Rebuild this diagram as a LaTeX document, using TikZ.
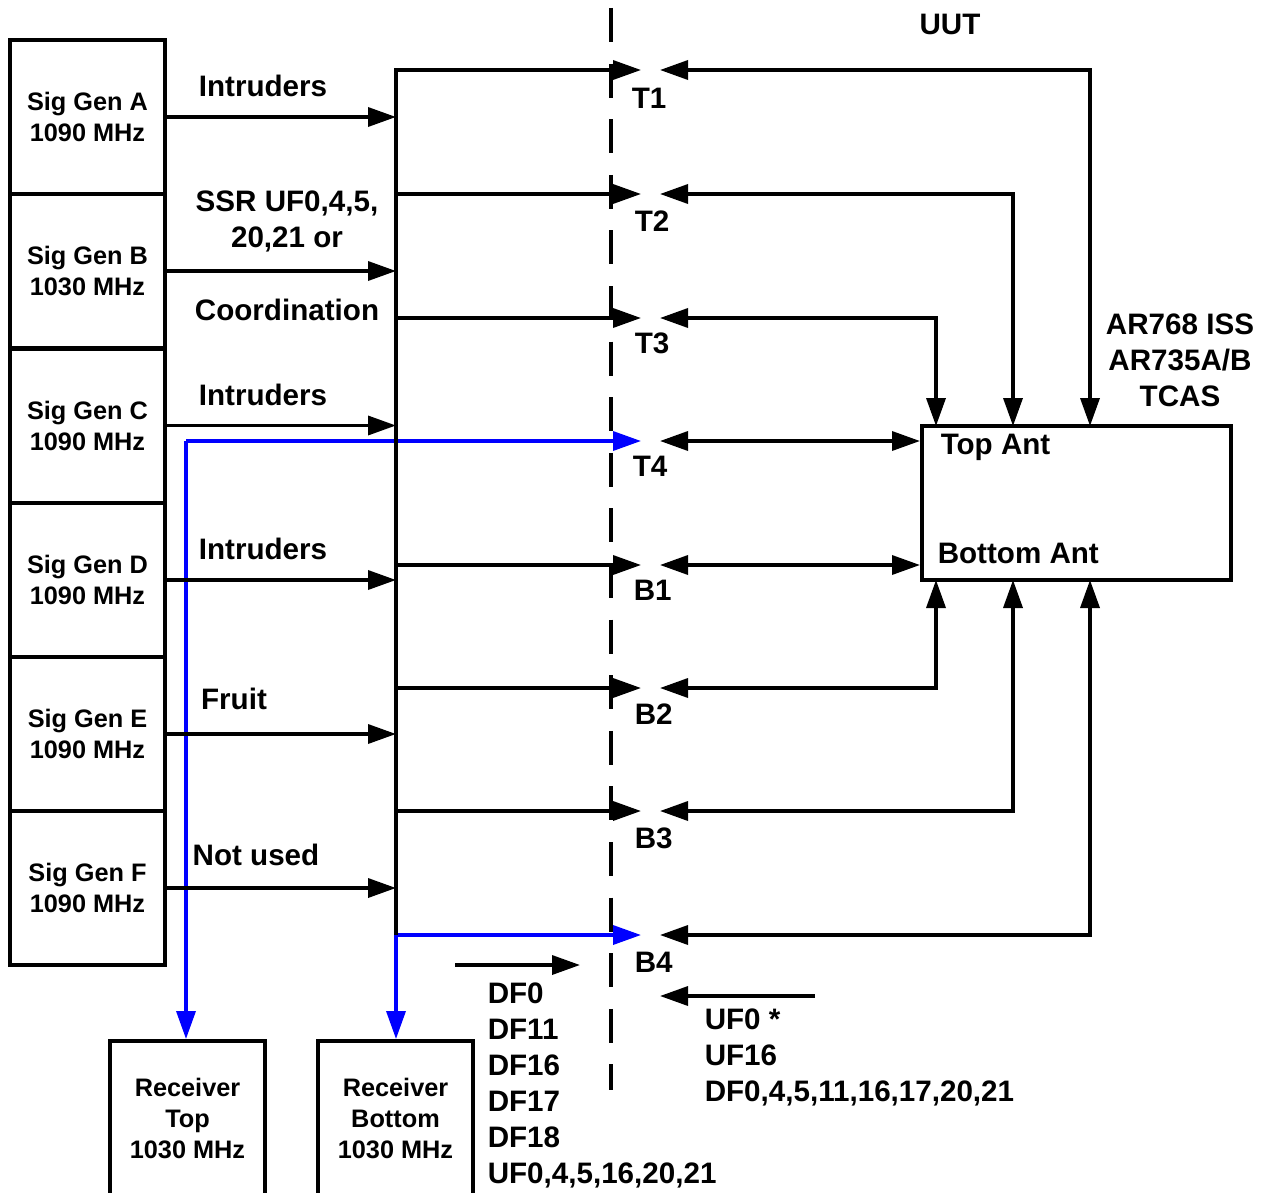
\documentclass[tikz,border=0pt]{standalone}
\usepackage{fontspec}
\setmainfont{Liberation Sans}
\usetikzlibrary{arrows.meta}
\definecolor{pblue}{RGB}{0,0,255}
\newcommand\mygenfont{\bfseries\fontsize{12.65}{15.5}\selectfont}
\newcommand\mylblfont{\bfseries\fontsize{14.8}{18}\selectfont}
\begin{document}
\begin{tikzpicture}[x=0.5pt,y=-0.5pt,line width=1.75pt,
  >={Triangle[length=14pt,width=9.5pt]},
  genbox/.style={draw,line width=2pt,minimum width=77.5pt,minimum height=77pt,inner sep=0pt,align=center,font=\mygenfont},
  lbl/.style={inner sep=0pt,font=\mylblfont},
  tlbl/.style={inner sep=0pt,font=\mylblfont,anchor=west},
  bluearrow/.style={pblue,->}]
\useasboundingbox (0,0) rectangle (1268,1193);
\clip (0,0) rectangle (1268,1193);

% signal generators
\node[genbox] (sgA) at (87.5,117) {Sig Gen A\\1090 MHz};
\node[genbox] (sgB) at (87.5,271) {Sig Gen B\\1030 MHz};
\node[genbox] (sgC) at (87.5,425.5) {Sig Gen C\\1090 MHz};
\node[genbox] (sgD) at (87.5,580) {Sig Gen D\\1090 MHz};
\node[genbox] (sgE) at (87.5,734) {Sig Gen E\\1090 MHz};
\node[genbox] (sgF) at (87.5,888) {Sig Gen F\\1090 MHz};

% receivers
\node[genbox] (recT) at (187.5,1118) {Receiver\\Top\\1030 MHz};
\node[genbox] (recB) at (395.5,1118) {Receiver\\Bottom\\1030 MHz};

% UUT box
\node[draw,line width=2pt,minimum width=154.5pt,minimum height=77pt,inner sep=0pt] (ant) at (1076.5,503) {};
\node[tlbl] (topant) at (939,447) {Top Ant};
\node[tlbl] (botant) at (936,553) {Bottom Ant};

% coordinates
\coordinate (bustop) at (396,70);
\coordinate (busbot) at (396,935);
\coordinate (dtop) at (611,8);
\coordinate (dbot) at (611,1090);
\foreach \n/\y in {T1/70,T2/194,T3/318,T4/441,B1/565,B2/688,B3/811,B4/935}{
  \coordinate (in\n) at (641,\y);
  \coordinate (out\n) at (660,\y);
}
\coordinate (antA) at (936,426);
\coordinate (antB) at (1013,426);
\coordinate (antC) at (1090,426);
\coordinate (antD) at (936,580);
\coordinate (antE) at (1013,580);
\coordinate (antF) at (1090,580);
\coordinate (bT4) at (186,441);
\coordinate (dfs) at (455,965);
\coordinate (dfe) at (580,965);
\coordinate (ufs) at (815,996);
\coordinate (ufe) at (660,996);

% dashed boundary
\draw[line width=2pt,dash pattern=on 17pt off 10.8pt] (dtop) -- (dbot);

% blue paths
\draw[bluearrow] (bT4) -- (inT4);
\draw[bluearrow] (bT4) -- (bT4 |- recT.north);
\draw[bluearrow] (busbot) -- (inB4);
\draw[bluearrow] (busbot) -- (busbot |- recB.north);

% generators to bus
\foreach \g in {sgA,sgB,sgC,sgD,sgE,sgF}{
  \draw[->] (\g.east) -- (\g.east -| bustop);
}
% bus
\draw[->] (busbot) -- (bustop) -- (inT1);
\foreach \n in {T2,T3,B1,B2,B3}{
  \draw[->] (in\n -| bustop) -- (in\n);
}

% right side
\draw[<->] (outT1) -| (antC);
\draw[<->] (outT2) -| (antB);
\draw[<->] (outT3) -| (antA);
\draw[<->] (outT4) -- (outT4 -| ant.west);
\draw[<->] (outB1) -- (outB1 -| ant.west);
\draw[<->] (outB2) -| (antD);
\draw[<->] (outB3) -| (antE);
\draw[<->] (outB4) -| (antF);

\draw[->] (dfs) -- (dfe);
\draw[->] (ufs) -- (ufe);

% labels
\node[lbl] (lInt1) at (263,86) {Intruders};
\node[lbl,align=center] (lSSR) at (287,221) {SSR UF0,4,5,\\20,21 or};
\node[lbl] (lCoord) at (287,310) {Coordination};
\node[lbl] (lInt2) at (263,395) {Intruders};
\node[lbl] (lInt3) at (263,549) {Intruders};
\node[lbl] (lFruit) at (234,699) {Fruit};
\node[lbl] (lNot) at (256,855) {Not used};

\node[tlbl] (tT1) at (630,98) {T1};
\node[tlbl] (tT2) at (633,221) {T2};
\node[tlbl] (tT3) at (633,343) {T3};
\node[tlbl] (tT4) at (631,466) {T4};
\node[tlbl] (tB1) at (632,590) {B1};
\node[tlbl] (tB2) at (633,714) {B2};
\node[tlbl] (tB3) at (633,838) {B3};
\node[tlbl] (tB4) at (633,962) {B4};

\node[lbl] (uut) at (950,24) {UUT};
\node[lbl,align=center] (tcas) at (1180,360) {AR768 ISS\\AR735A/B\\TCAS};

\node[tlbl,align=left] (dflist) at (486,1085) {DF0\\DF11\\DF16\\DF17\\DF18\\UF0,4,5,16,20,21};
\node[tlbl,align=left] (uflist) at (703,1057) {UF0 *\\UF16\\DF0,4,5,11,16,17,20,21};
\end{tikzpicture}
\end{document}
